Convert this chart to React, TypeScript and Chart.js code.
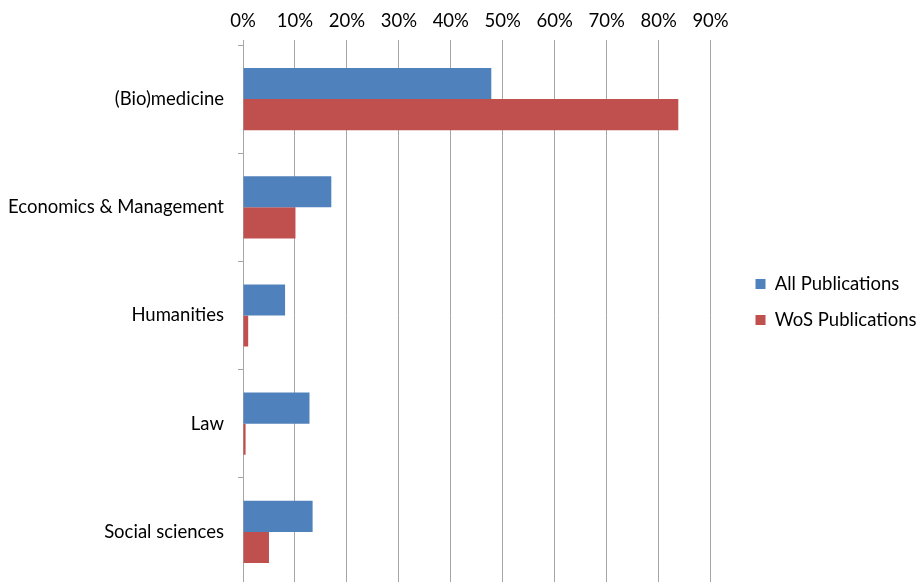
import React, { useEffect, useRef } from 'react';
import { Chart, registerables } from 'chart.js';

Chart.register(...registerables);

const categories = ['(Bio)medicine', 'Economics & Management', 'Humanities', 'Law', 'Social sciences'];
const allPublications = [47.8, 17.0, 8.1, 12.8, 13.4];
const wosPublications = [83.8, 10.1, 1.0, 0.5, 5.0];
const axisMax = 90;
const axisStep = 10;

const FONT = 'Lato';
const FONT_SIZE = 18.5;
const GRID = '#a6a6a6';

// puts the built-in legend where the original has it (box at x≈757)
const legendNudge = {
  id: 'legendNudge',
  afterLayout(chart: any) {
    const lg = chart.legend;
    if (!lg) return;
    const dx = 738 - lg.left;
    const dy = 9;
    lg.left += dx;
    lg.right += dx;
    lg.top += dy;
    lg.bottom += dy;
  },
};

const App = () => {
  const canvasRef = useRef<HTMLCanvasElement>(null);

  useEffect(() => {
    const ctx = canvasRef.current!.getContext('2d')!;

    const chart = new Chart(ctx, {
      type: 'bar',
      data: {
        labels: categories,
        datasets: [
          {
            label: 'All Publications',
            data: allPublications,
            backgroundColor: '#4f81bd',
            borderWidth: 0,
            categoryPercentage: 0.575,
            barPercentage: 1,
          },
          {
            label: 'WoS Publications',
            data: wosPublications,
            backgroundColor: '#c0504d',
            borderWidth: 0,
            categoryPercentage: 0.575,
            barPercentage: 1,
          },
        ],
      },
      plugins: [legendNudge],
      options: {
        indexAxis: 'y',
        animation: false,
        responsive: false,
        layout: { padding: { left: 0, top: 0, right: 20, bottom: 4 } },
        plugins: {
          tooltip: { enabled: false },
          legend: {
            position: 'right',
            labels: {
              boxWidth: 10,
              boxHeight: 10,
              padding: 17.5,
              color: '#000',
              font: { family: FONT, size: FONT_SIZE },
            },
          },
        },
        scales: {
          x: {
            position: 'top',
            min: 0,
            max: axisMax,
            afterFit: (scale: any) => {
              scale.height = 45;
            },
            ticks: {
              stepSize: axisStep,
              padding: 8,
              color: '#000',
              font: { family: FONT, size: FONT_SIZE },
              callback: (v: any) => `${v}%`,
            },
            grid: {
              color: GRID,
              lineWidth: 1,
              tickLength: 5,
            },
            border: { display: false },
          },
          y: {
            afterFit: (scale: any) => {
              scale.width = 243;
              scale.paddingTop = 0;
              scale.paddingBottom = 0;
            },
            ticks: {
              padding: 14,
              color: '#000',
              font: { family: FONT, size: FONT_SIZE },
            },
            grid: {
              drawOnChartArea: false,
              color: GRID,
              tickLength: 5,
              offset: true,
            },
            border: { display: true, color: GRID, width: 1 },
          },
        },
      },
    });

    return () => chart.destroy();
  }, []);

  return (
    <div style={{ position: 'absolute', left: 0, top: 0, width: 919, height: 582, overflow: 'hidden', background: '#fff' }}>
      <canvas ref={canvasRef} width={919} height={590} />
    </div>
  );
};

export default App;
